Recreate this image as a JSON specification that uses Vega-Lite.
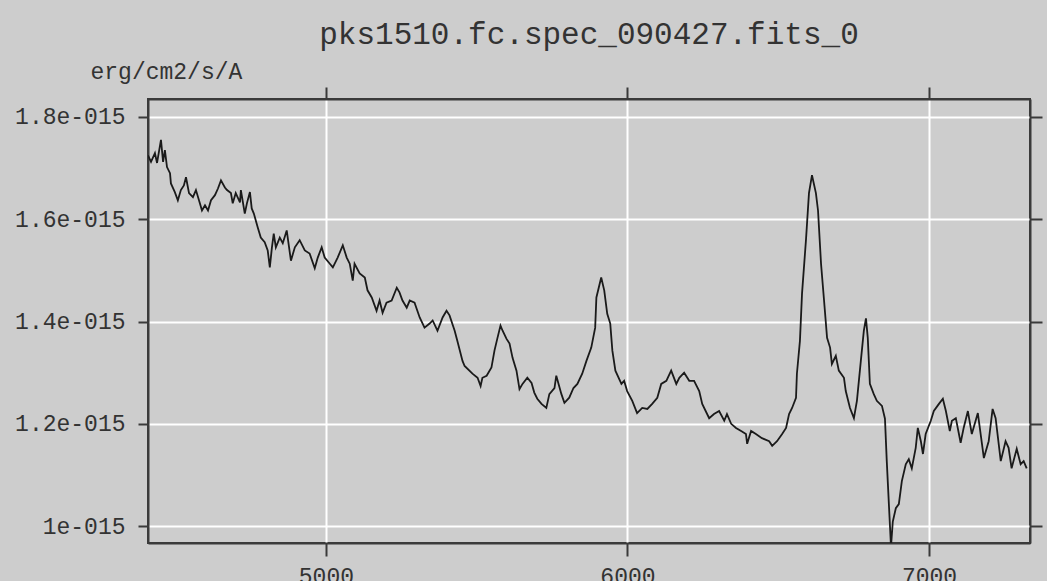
{
  "$schema": "https://vega.github.io/schema/vega-lite/v6.json",
  "autosize": {"type": "none"},
  "width": 882,
  "height": 444,
  "padding": {"left": 148, "top": 99, "right": 17, "bottom": 38},
  "background": "#cdcdcd",
  "view": {"fill": "#cdcdcd", "stroke": "#3a3a3a", "strokeWidth": 2},
  "title": {
    "text": "pks1510.fc.spec_090427.fits_0",
    "anchor": "middle",
    "frame": "group",
    "font": "Liberation Mono",
    "fontSize": 31,
    "fontWeight": "normal",
    "color": "#333333",
    "offset": 9
  },
  "data": {"values": [
    {"wl":4410,"flux":1.725e-15},{"wl":4420,"flux":1.712e-15},{"wl":4433,"flux":1.729e-15},{"wl":4440,"flux":1.710e-15},
    {"wl":4453,"flux":1.755e-15},{"wl":4460,"flux":1.712e-15},{"wl":4466,"flux":1.735e-15},{"wl":4473,"flux":1.702e-15},
    {"wl":4483,"flux":1.690e-15},{"wl":4486,"flux":1.670e-15},{"wl":4499,"flux":1.653e-15},{"wl":4509,"flux":1.637e-15},
    {"wl":4519,"flux":1.657e-15},{"wl":4529,"flux":1.666e-15},{"wl":4536,"flux":1.682e-15},{"wl":4546,"flux":1.651e-15},
    {"wl":4559,"flux":1.643e-15},{"wl":4569,"flux":1.657e-15},{"wl":4582,"flux":1.631e-15},{"wl":4589,"flux":1.617e-15},
    {"wl":4599,"flux":1.627e-15},{"wl":4609,"flux":1.617e-15},{"wl":4619,"flux":1.637e-15},{"wl":4632,"flux":1.647e-15},
    {"wl":4642,"flux":1.660e-15},{"wl":4652,"flux":1.676e-15},{"wl":4665,"flux":1.662e-15},{"wl":4672,"flux":1.657e-15},
    {"wl":4685,"flux":1.651e-15},{"wl":4691,"flux":1.631e-15},{"wl":4701,"flux":1.651e-15},{"wl":4715,"flux":1.633e-15},
    {"wl":4718,"flux":1.657e-15},{"wl":4731,"flux":1.611e-15},{"wl":4738,"flux":1.631e-15},{"wl":4748,"flux":1.653e-15},
    {"wl":4754,"flux":1.621e-15},{"wl":4761,"flux":1.611e-15},{"wl":4774,"flux":1.584e-15},{"wl":4784,"flux":1.564e-15},
    {"wl":4797,"flux":1.555e-15},{"wl":4807,"flux":1.539e-15},{"wl":4814,"flux":1.506e-15},{"wl":4821,"flux":1.545e-15},
    {"wl":4827,"flux":1.572e-15},{"wl":4834,"flux":1.545e-15},{"wl":4847,"flux":1.564e-15},{"wl":4857,"flux":1.553e-15},
    {"wl":4870,"flux":1.578e-15},{"wl":4884,"flux":1.519e-15},{"wl":4897,"flux":1.545e-15},{"wl":4913,"flux":1.559e-15},
    {"wl":4930,"flux":1.539e-15},{"wl":4946,"flux":1.533e-15},{"wl":4963,"flux":1.504e-15},{"wl":4973,"flux":1.525e-15},
    {"wl":4986,"flux":1.545e-15},{"wl":4996,"flux":1.525e-15},{"wl":5013,"flux":1.513e-15},{"wl":5023,"flux":1.506e-15},
    {"wl":5039,"flux":1.525e-15},{"wl":5056,"flux":1.549e-15},{"wl":5069,"flux":1.525e-15},{"wl":5079,"flux":1.513e-15},
    {"wl":5089,"flux":1.480e-15},{"wl":5095,"flux":1.513e-15},{"wl":5112,"flux":1.494e-15},{"wl":5129,"flux":1.486e-15},
    {"wl":5138,"flux":1.461e-15},{"wl":5152,"flux":1.447e-15},{"wl":5168,"flux":1.421e-15},{"wl":5178,"flux":1.441e-15},
    {"wl":5188,"flux":1.417e-15},{"wl":5201,"flux":1.437e-15},{"wl":5218,"flux":1.441e-15},{"wl":5235,"flux":1.466e-15},
    {"wl":5244,"flux":1.457e-15},{"wl":5254,"flux":1.441e-15},{"wl":5268,"flux":1.427e-15},{"wl":5278,"flux":1.441e-15},
    {"wl":5294,"flux":1.437e-15},{"wl":5311,"flux":1.408e-15},{"wl":5327,"flux":1.388e-15},{"wl":5344,"flux":1.396e-15},
    {"wl":5354,"flux":1.402e-15},{"wl":5370,"flux":1.382e-15},{"wl":5387,"flux":1.408e-15},{"wl":5400,"flux":1.421e-15},
    {"wl":5410,"flux":1.412e-15},{"wl":5427,"flux":1.382e-15},{"wl":5436,"flux":1.362e-15},{"wl":5453,"flux":1.323e-15},
    {"wl":5460,"flux":1.313e-15},{"wl":5486,"flux":1.298e-15},{"wl":5503,"flux":1.290e-15},{"wl":5513,"flux":1.274e-15},
    {"wl":5519,"flux":1.290e-15},{"wl":5533,"flux":1.294e-15},{"wl":5549,"flux":1.310e-15},{"wl":5559,"flux":1.343e-15},
    {"wl":5569,"flux":1.368e-15},{"wl":5579,"flux":1.392e-15},{"wl":5586,"flux":1.382e-15},{"wl":5599,"flux":1.366e-15},
    {"wl":5609,"flux":1.357e-15},{"wl":5619,"flux":1.329e-15},{"wl":5632,"flux":1.304e-15},{"wl":5642,"flux":1.268e-15},
    {"wl":5652,"flux":1.278e-15},{"wl":5668,"flux":1.290e-15},{"wl":5682,"flux":1.280e-15},{"wl":5691,"flux":1.261e-15},
    {"wl":5701,"flux":1.249e-15},{"wl":5715,"flux":1.239e-15},{"wl":5731,"flux":1.231e-15},{"wl":5741,"flux":1.258e-15},
    {"wl":5758,"flux":1.270e-15},{"wl":5764,"flux":1.294e-15},{"wl":5781,"flux":1.258e-15},{"wl":5791,"flux":1.241e-15},
    {"wl":5807,"flux":1.251e-15},{"wl":5821,"flux":1.270e-15},{"wl":5834,"flux":1.278e-15},{"wl":5850,"flux":1.298e-15},
    {"wl":5864,"flux":1.323e-15},{"wl":5880,"flux":1.349e-15},{"wl":5893,"flux":1.388e-15},{"wl":5897,"flux":1.447e-15},
    {"wl":5913,"flux":1.486e-15},{"wl":5923,"flux":1.461e-15},{"wl":5933,"flux":1.415e-15},{"wl":5943,"flux":1.396e-15},
    {"wl":5950,"flux":1.343e-15},{"wl":5960,"flux":1.304e-15},{"wl":5980,"flux":1.278e-15},{"wl":5989,"flux":1.284e-15},
    {"wl":5999,"flux":1.264e-15},{"wl":6016,"flux":1.245e-15},{"wl":6032,"flux":1.221e-15},{"wl":6049,"flux":1.231e-15},
    {"wl":6066,"flux":1.229e-15},{"wl":6082,"flux":1.239e-15},{"wl":6099,"flux":1.251e-15},{"wl":6112,"flux":1.278e-15},
    {"wl":6129,"flux":1.284e-15},{"wl":6145,"flux":1.304e-15},{"wl":6162,"flux":1.278e-15},{"wl":6172,"flux":1.290e-15},
    {"wl":6188,"flux":1.300e-15},{"wl":6205,"flux":1.284e-15},{"wl":6221,"flux":1.284e-15},{"wl":6238,"flux":1.264e-15},
    {"wl":6248,"flux":1.239e-15},{"wl":6271,"flux":1.211e-15},{"wl":6287,"flux":1.219e-15},{"wl":6304,"flux":1.225e-15},
    {"wl":6321,"flux":1.206e-15},{"wl":6330,"flux":1.219e-15},{"wl":6344,"flux":1.200e-15},{"wl":6360,"flux":1.192e-15},
    {"wl":6377,"flux":1.186e-15},{"wl":6393,"flux":1.180e-15},{"wl":6397,"flux":1.161e-15},{"wl":6410,"flux":1.186e-15},
    {"wl":6426,"flux":1.180e-15},{"wl":6446,"flux":1.172e-15},{"wl":6470,"flux":1.166e-15},{"wl":6480,"flux":1.157e-15},
    {"wl":6496,"flux":1.166e-15},{"wl":6513,"flux":1.180e-15},{"wl":6526,"flux":1.192e-15},{"wl":6536,"flux":1.219e-15},
    {"wl":6546,"flux":1.231e-15},{"wl":6559,"flux":1.251e-15},{"wl":6562,"flux":1.298e-15},{"wl":6572,"flux":1.362e-15},
    {"wl":6579,"flux":1.455e-15},{"wl":6592,"flux":1.559e-15},{"wl":6602,"flux":1.651e-15},{"wl":6612,"flux":1.686e-15},
    {"wl":6625,"flux":1.651e-15},{"wl":6632,"flux":1.617e-15},{"wl":6642,"flux":1.513e-15},{"wl":6652,"flux":1.441e-15},
    {"wl":6662,"flux":1.368e-15},{"wl":6672,"flux":1.349e-15},{"wl":6678,"flux":1.317e-15},{"wl":6691,"flux":1.333e-15},
    {"wl":6701,"flux":1.304e-15},{"wl":6718,"flux":1.290e-15},{"wl":6724,"flux":1.264e-15},{"wl":6738,"flux":1.231e-15},
    {"wl":6751,"flux":1.211e-15},{"wl":6761,"flux":1.245e-15},{"wl":6774,"flux":1.323e-15},{"wl":6784,"flux":1.382e-15},
    {"wl":6791,"flux":1.406e-15},{"wl":6797,"flux":1.368e-15},{"wl":6804,"flux":1.278e-15},{"wl":6817,"flux":1.258e-15},
    {"wl":6827,"flux":1.245e-15},{"wl":6844,"flux":1.235e-15},{"wl":6854,"flux":1.210e-15},{"wl":6860,"flux":1.127e-15},
    {"wl":6867,"flux":1.043e-15},{"wl":6874,"flux":0.960e-15},{"wl":6880,"flux":1.009e-15},{"wl":6890,"flux":1.035e-15},
    {"wl":6900,"flux":1.043e-15},{"wl":6910,"flux":1.088e-15},{"wl":6923,"flux":1.121e-15},{"wl":6933,"flux":1.131e-15},
    {"wl":6943,"flux":1.113e-15},{"wl":6956,"flux":1.153e-15},{"wl":6963,"flux":1.192e-15},{"wl":6973,"flux":1.166e-15},
    {"wl":6980,"flux":1.141e-15},{"wl":6989,"flux":1.180e-15},{"wl":7006,"flux":1.206e-15},{"wl":7016,"flux":1.225e-15},
    {"wl":7033,"flux":1.239e-15},{"wl":7046,"flux":1.249e-15},{"wl":7056,"flux":1.225e-15},{"wl":7069,"flux":1.186e-15},
    {"wl":7076,"flux":1.206e-15},{"wl":7089,"flux":1.211e-15},{"wl":7105,"flux":1.163e-15},{"wl":7115,"flux":1.192e-15},
    {"wl":7129,"flux":1.225e-15},{"wl":7142,"flux":1.180e-15},{"wl":7162,"flux":1.221e-15},{"wl":7182,"flux":1.133e-15},
    {"wl":7198,"flux":1.166e-15},{"wl":7211,"flux":1.229e-15},{"wl":7221,"flux":1.211e-15},{"wl":7238,"flux":1.127e-15},
    {"wl":7254,"flux":1.166e-15},{"wl":7264,"flux":1.153e-15},{"wl":7274,"flux":1.113e-15},{"wl":7291,"flux":1.151e-15},
    {"wl":7304,"flux":1.121e-15},{"wl":7314,"flux":1.127e-15},{"wl":7324,"flux":1.113e-15}
  ]},
  "config": {
    "axis": {
      "labelFont": "Liberation Mono",
      "labelFontSize": 23,
      "labelColor": "#333333",
      "titleFont": "Liberation Mono",
      "titleFontSize": 23,
      "titleFontWeight": "normal",
      "titleColor": "#333333",
      "domainColor": "#3a3a3a",
      "domainWidth": 2,
      "tickColor": "#3a3a3a",
      "tickWidth": 2,
      "tickSize": 11,
      "gridColor": "#ffffff",
      "gridWidth": 2,
      "gridOpacity": 1
    }
  },
  "resolve": {"axis": {"x": "independent", "y": "independent"}},
  "layer": [
    {
      "mark": {"type": "line", "color": "#1a1a1a", "strokeWidth": 1.8, "clip": true, "interpolate": "linear"},
      "encoding": {
        "x": {"field": "wl", "type": "quantitative",
              "scale": {"domain": [4410, 7335], "nice": false, "zero": false},
              "axis": {"orient": "bottom", "values": [5000, 6000, 7000], "format": "d", "title": null,
                       "tickSize": 13, "labelPadding": 9, "labelBaseline": "top", "grid": true}},
        "y": {"field": "flux", "type": "quantitative",
              "scale": {"domain": [0.967e-15, 1.835e-15], "nice": false, "zero": false},
              "axis": {"orient": "left", "values": [1e-15, 1.2e-15, 1.4e-15, 1.6e-15, 1.8e-15],
                       "labelExpr": "format(datum.value*1e15,'.1f') == '1.0' ? '1e-015' : format(datum.value*1e15,'.1f') + 'e-015'",
                       "tickSize": 10, "labelPadding": 13, "grid": true,
                       "title": "erg/cm2/s/A", "titleAngle": 0, "titleX": -58, "titleY": -21,
                       "titleAlign": "left", "titleBaseline": "alphabetic"}}
      }
    },
    {
      "mark": {"type": "line", "strokeOpacity": 0, "clip": true},
      "encoding": {
        "x": {"field": "wl", "type": "quantitative",
              "axis": {"orient": "top", "values": [5000, 6000, 7000], "labels": false, "title": null, "tickSize": 12, "grid": false}},
        "y": {"field": "flux", "type": "quantitative",
              "axis": {"orient": "right", "values": [1e-15, 1.2e-15, 1.4e-15, 1.6e-15, 1.8e-15], "labels": false, "title": null, "tickSize": 12, "grid": false}}
      }
    }
  ]
}
